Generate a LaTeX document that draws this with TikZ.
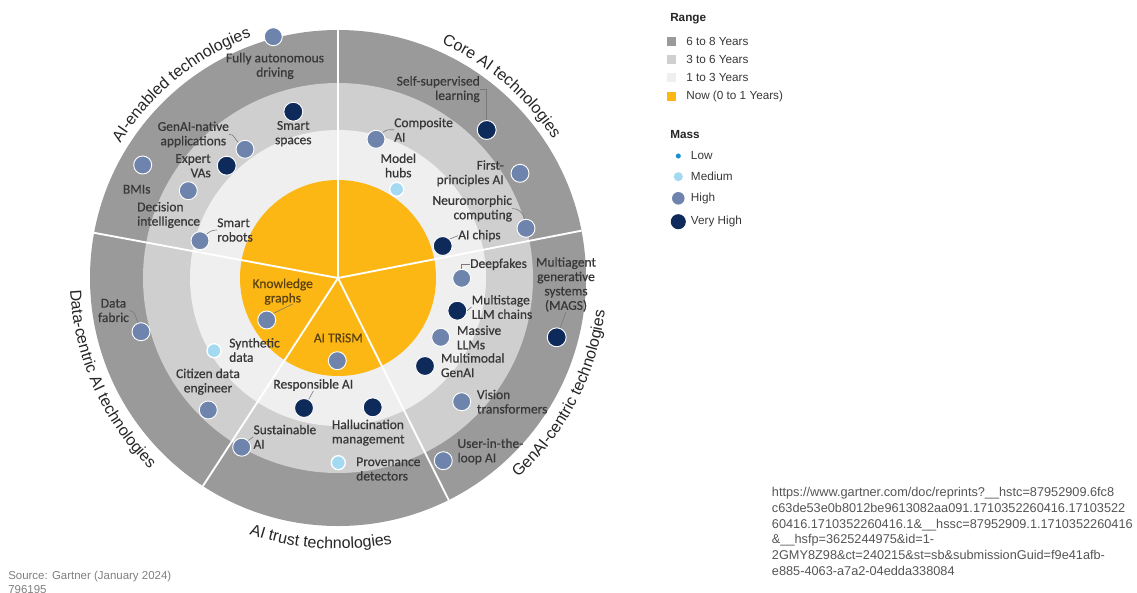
\documentclass[tikz,border=0pt]{standalone}
\usepackage{fontspec}
\setmainfont{Liberation Sans}
\newfontfamily\carlito[FakeBold=0.6]{Carlito}
\usetikzlibrary{positioning,calc,decorations.text}
\definecolor{ringfar}{HTML}{9A9A9A}
\definecolor{ringmid}{HTML}{CFCFCF}
\definecolor{ringnear}{HTML}{EFEFEF}
\definecolor{ringnow}{HTML}{FDB714}
\definecolor{massvhigh}{HTML}{0E2A5A}
\definecolor{masshigh}{HTML}{6F84AC}
\definecolor{massmed}{HTML}{A3DAF2}
\definecolor{masslow}{HTML}{1B8FD0}
\definecolor{ink}{HTML}{383838}
\definecolor{inknow}{HTML}{5A4310}
\definecolor{sectink}{HTML}{262626}
\definecolor{leadgray}{HTML}{7A7A7A}
\definecolor{urlgray}{HTML}{555555}
\definecolor{srcgray}{HTML}{808080}
\newcommand\techfont{\carlito\fontsize{10.1}{10.8}\selectfont}
\newcommand\sectfont{\fontsize{12}{14}\selectfont}
\newcommand\legfont{\fontsize{8.8}{10.5}\selectfont}
\newcommand\urlfont{\fontsize{9.55}{11.85}\selectfont}
\newcommand\srcfont{\fontsize{8.6}{10.5}\selectfont}
\tikzset{
  techlabel/.style={font=\techfont, text=ink, inner sep=0pt, align=center},
  techleft/.style={techlabel, align=left, anchor=west},
  techright/.style={techlabel, align=right, anchor=east},
  nowlabel/.style={techlabel, text=inknow},
  massdot/.style={circle, draw=white, line width=0.7pt, inner sep=0pt},
  dotvhigh/.style={massdot, fill=massvhigh, minimum size=14.2pt},
  dothigh/.style={massdot, fill=masshigh, minimum size=13.5pt},
  dotmed/.style={massdot, fill=massmed, minimum size=10.5pt, line width=1pt},
  leader/.style={draw=leadgray, line width=0.45pt},
  sectlabel/.style={decorate, decoration={text along path, text align=center,
      text={|\sectfont\color{sectink}|#1}}},
  rangekey/.style={rectangle, inner sep=0pt, minimum size=6.8pt},
  legendtext/.style={font=\legfont, text=ink, inner sep=0pt, anchor=west},
  legendhead/.style={font=\legfont\bfseries, text=black!85, inner sep=0pt, anchor=west}
}

\begin{document}
\begin{tikzpicture}[x=0.75pt, y=0.75pt]
\fill[white] (0,0) rectangle (1137,-592);
\useasboundingbox (0,0) rectangle (1137,-592);

% rings and sector spokes
\begin{scope}[shift={(338,-278)}]
  \fill[ringfar] (0,0) circle[radius=248];
  \fill[ringmid] (0,0) circle[radius=195];
  \fill[ringnear] (0,0) circle[radius=148];
  \fill[ringnow] (0,0) circle[radius=98];
  \foreach \a in {90,11,-63.5,-123,169.5}
    \draw[white, line width=1.4pt] (0,0) -- (\a:248);
  \path[sectlabel={AI-enabled technologies}] (159:256) arc[start angle=159, end angle=99, radius=256];
  \path[sectlabel={Core AI technologies}] (79.5:256) arc[start angle=79.5, end angle=19.5, radius=256];
  \path[sectlabel={GenAI-centric technologies}] (-57.5:269) arc[start angle=-57.5, end angle=2.5, radius=269];
  \path[sectlabel={AI trust technologies}] (-123.8:271) arc[start angle=-123.8, end angle=-63.8, radius=271];
  \path[sectlabel={Data-centric AI technologies}] (174:268) arc[start angle=174, end angle=234, radius=268];
\end{scope}

% AI-enabled technologies
\node[dothigh] (fad) at (273.3,-36.7) {};
\node[techlabel] (fadl) at (275,-66) {Fully autonomous\\driving};
\node[dotvhigh] (smsp) at (293.3,-111.7) {};
\node[techlabel] (smspl) at (293.3,-133.7) {Smart\\spaces};
\node[dothigh] (gna) at (245,-149.3) {};
\node[techlabel] (gnal) at (193.3,-134.5) {GenAI-native\\applications};
\draw[leader] (gnal.east) to[out=10, in=135] (gna);
\node[dotvhigh] (xva) at (226.7,-165.7) {};
\node[techright] (xval) at (211,-165.8) {Expert\\VAs};
\node[dothigh] (bmi) at (142.7,-165) {};
\node[techlabel] (bmil) at (136.7,-189.3) {BMIs};
\node[dothigh] (dci) at (188.3,-190.7) {};
\node[techleft] (dcil) at (137,-215) {Decision\\intelligence};
\node[dothigh] (smr) at (200,-240.7) {};
\node[techleft] (smrl) at (217,-230) {Smart\\robots};
\draw[leader] (smr.north east) to[out=40, in=180] (smrl.west);

% Core AI technologies
\node[dotvhigh] (ssl) at (486.7,-130) {};
\node[techright] (ssll) at (480,-89.2) {Self-supervised\\learning};
\draw[leader] (ssll.east) -| (ssl);
\node[dothigh] (cai) at (376,-139.3) {};
\node[techleft] (cail) at (394,-129.7) {Composite\\AI};
\draw[leader] (cai.north east) to[out=45, in=180] (cail.west);
\node[dotmed] (mhb) at (396.7,-189.3) {};
\node[techlabel] (mhbl) at (398.3,-165.5) {Model\\hubs};
\node[dothigh] (fpa) at (520,-173.3) {};
\node[techright] (fpal) at (504,-173.3) {First-\\principles AI};
\node[dothigh] (nmc) at (526,-228.3) {};
\node[techright] (nmcl) at (512.3,-208.5) {Neuromorphic\\computing};
\draw[leader] (nmcl.east) to[out=0, in=100] (nmc);
\node[dotvhigh] (aic) at (442.7,-246) {};
\node[techleft] (aicl) at (458,-235.7) {AI chips};
\draw[leader] (aic.north east) -- (aicl.west);

% GenAI-centric technologies
\node[dothigh] (dfk) at (461.7,-278.3) {};
\node[techleft] (dfkl) at (470,-264.3) {Deepfakes};
\draw[leader] (dfk.north) |- (dfkl.west);
\node[dotvhigh] (mlc) at (457.3,-310.7) {};
\node[techleft] (mlcl) at (471.5,-307) {Multistage\\LLM chains};
\draw[leader] (mlc.east) -- (mlcl.west);
\node[dothigh] (mll) at (440.7,-337.3) {};
\node[techleft] (mlll) at (456.7,-337.5) {Massive\\LLMs};
\node[dotvhigh] (mmg) at (425,-366) {};
\node[techleft] (mmgl) at (440.7,-365.2) {Multimodal\\GenAI};
\node[dothigh] (vit) at (461.7,-401.7) {};
\node[techleft] (vitl) at (476.7,-401.7) {Vision\\transformers};
\node[dothigh] (uil) at (443.3,-460.7) {};
\node[techleft] (uill) at (457.3,-451.5) {User-in-the-\\loop AI};
\node[dotvhigh] (mag) at (556.7,-337.3) {};
\node[techlabel] (magl) at (566,-284.5) {Multiagent\\generative\\systems\\(MAGS)};
\draw[leader] (magl.south) -- (mag);

% Data-centric AI technologies
\node[dothigh] (dfb) at (141,-331.7) {};
\node[techlabel] (dfbl) at (113.5,-310.5) {Data\\fabric};
\draw[leader] (dfbl.east) to[out=0, in=110] (dfb);
\node[dotmed] (syn) at (214,-350.7) {};
\node[techleft] (synl) at (229,-350) {Synthetic\\data};
\node[dothigh] (cde) at (208.3,-410) {};
\node[techlabel] (cdel) at (208,-381.7) {Citizen data\\engineer};
\node[dothigh] (kgr) at (266.7,-320) {};
\node[nowlabel] (kgrl) at (282.7,-291.7) {Knowledge\\graphs};
\draw[leader] (kgr.north east) -- ($(kgrl.south)+(10,1)$);

% AI trust technologies
\node[dothigh] (trism) at (337.3,-360.7) {};
\node[nowlabel] (trisml) at (338.3,-337.7) {AI TRiSM};
\node[dotvhigh] (rai) at (304,-408) {};
\node[techlabel] (rail) at (313.3,-385) {Responsible AI};
\draw[leader] (rail.south) -- (rai);
\node[dothigh] (sai) at (241.7,-447.2) {};
\node[techleft] (sail) at (253.3,-436.7) {Sustainable\\AI};
\draw[leader] (sai.north east) -- (sail.west);
\node[dotvhigh] (hlm) at (372.7,-407.3) {};
\node[techleft] (hlml) at (331.7,-432.7) {Hallucination\\management};
\node[dotmed] (pvd) at (338.3,-462.7) {};
\node[techleft] (pvdl) at (356,-469) {Provenance\\detectors};

% legend
\node[legendhead] (rangehd) at (670,-19) {Range};
\foreach \c/\t/\y [count=\i] in {ringfar/{6 to 8 Years}/41.7, ringmid/{3 to 6 Years}/59.7,
    ringnear/{1 to 3 Years}/77.7, ringnow/{Now (0 to 1 Years)}/96.7} {
  \node[rangekey, fill=\c] (rkey\i) at (671.7,-\y) {};
  \node[legendtext] (rtxt\i) at (686,-\y) {\t};
}
\node[legendhead] (masshd) at (670,-135) {Mass};
\foreach \c/\d/\t/\y [count=\i] in {masslow/3.8pt/Low/156, massmed/6.8pt/Medium/176.7,
    masshigh/9.4pt/High/198.3, massvhigh/11.3pt/{Very High}/221.7} {
  \node[circle, fill=\c, inner sep=0pt, minimum size=\d] (mkey\i) at (678.3,-\y) {};
  \node[legendtext] (mtxt\i) at (690.7,-\y) {\t};
}

% footer
\node[font=\urlfont, text=urlgray, align=left, inner sep=0pt, anchor=north west] (reprint) at (771.7,-487)
  {https://www.gartner.com/doc/reprints?\_\_hstc=87952909.6fc8\\
   c63de53e0b8012be9613082aa091.1710352260416.17103522\\
   60416.1710352260416.1\&\_\_hssc=87952909.1.1710352260416\\
   \&\_\_hsfp=3625244975\&id=1-\\
   2GMY8Z98\&ct=240215\&st=sb\&submissionGuid=f9e41afb-\\
   e885-4063-a7a2-04edda338084};
\node[font=\srcfont, text=srcgray, align=left, inner sep=0pt, anchor=north west] (source) at (8,-570.7)
  {Source: Gartner (January 2024)\\796195};
\end{tikzpicture}
\end{document}
